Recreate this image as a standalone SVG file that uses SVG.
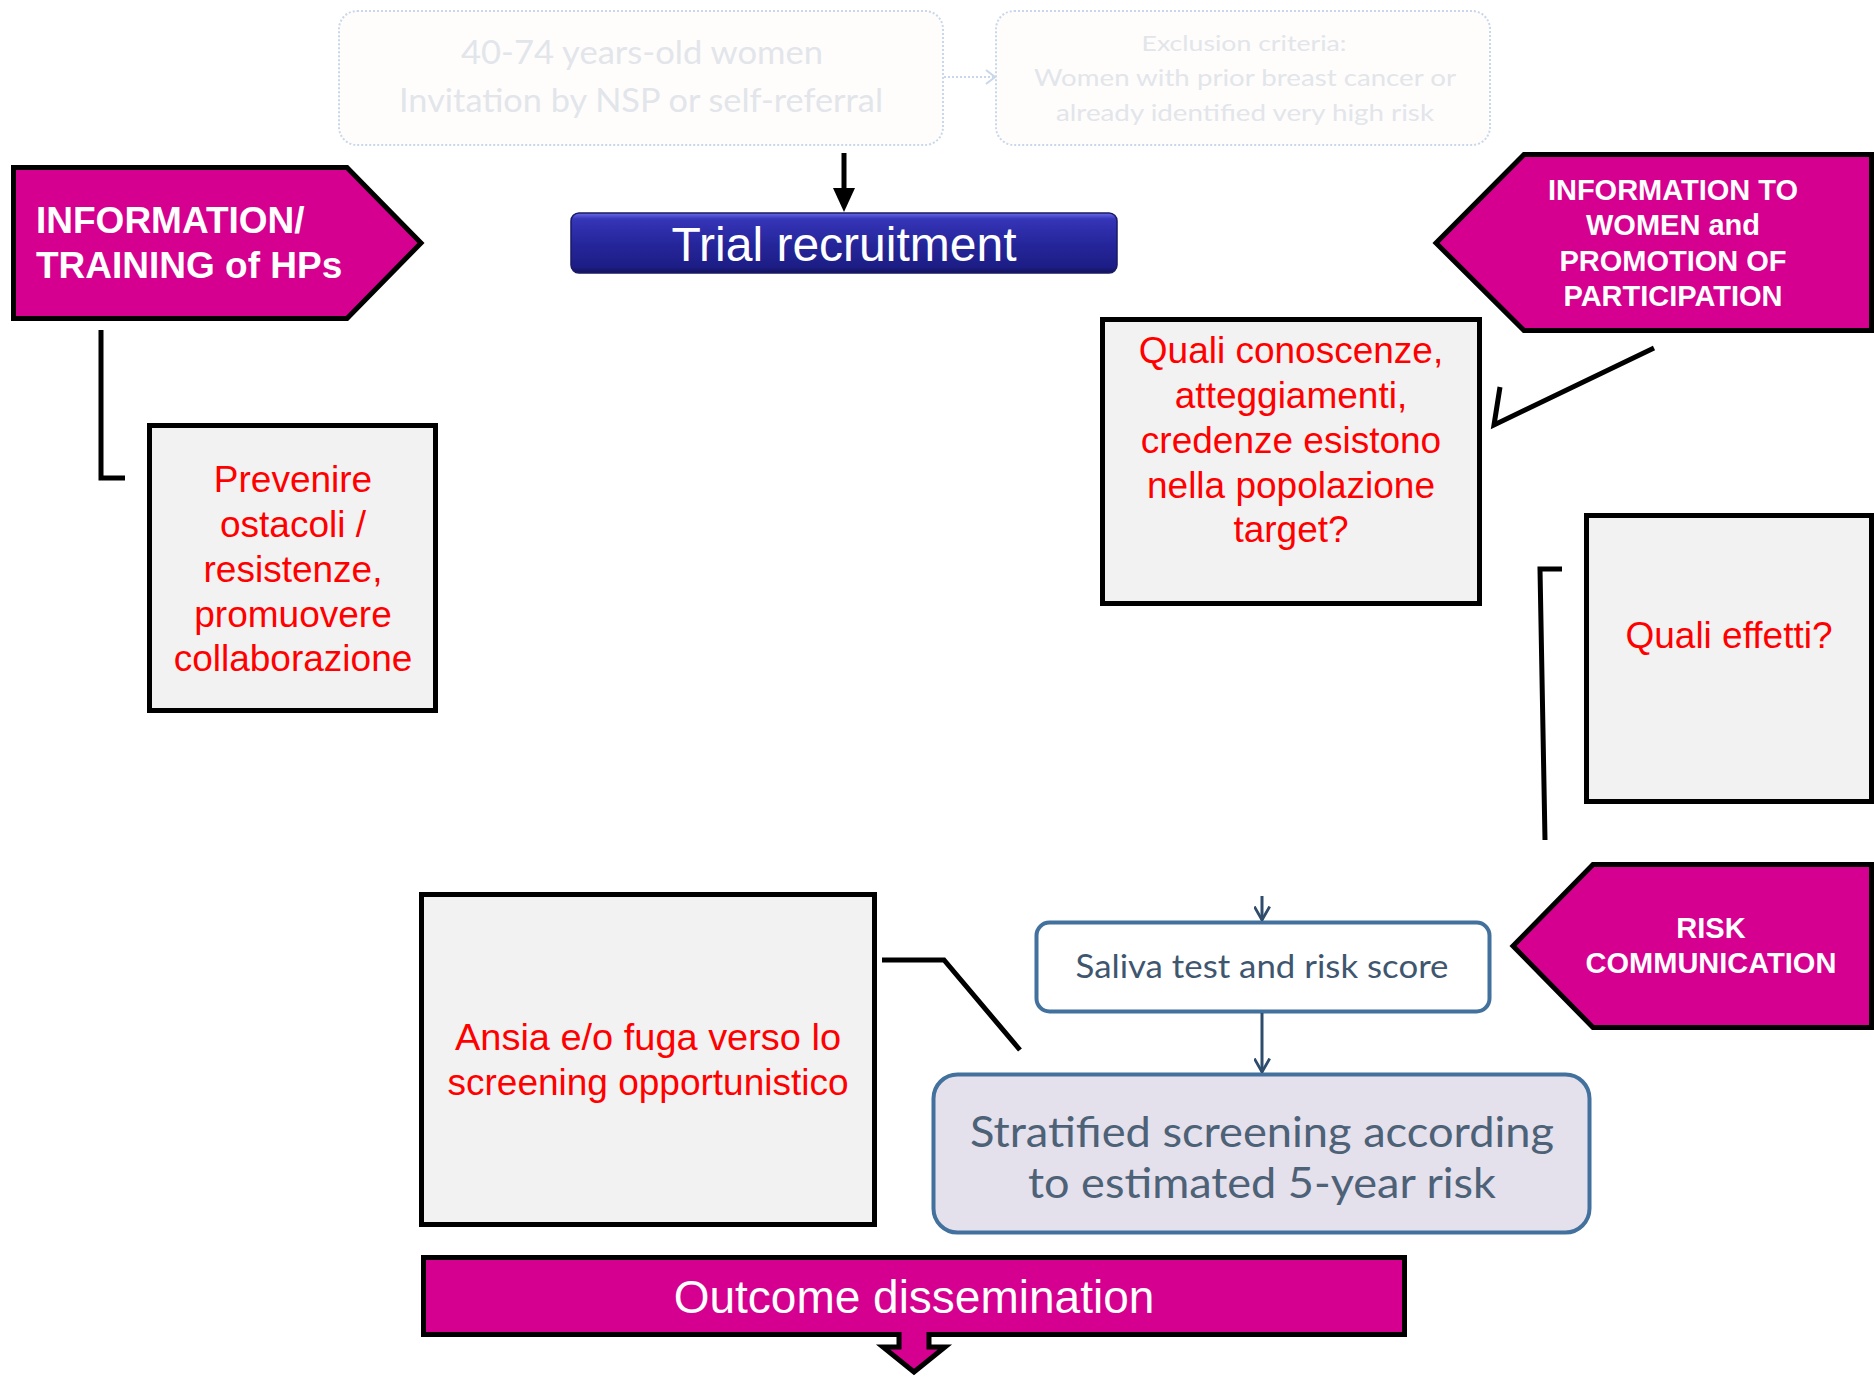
<svg xmlns="http://www.w3.org/2000/svg" width="1874" height="1377" viewBox="0 0 1874 1377">
  <defs>
    <linearGradient id="navy" x1="0" y1="0" x2="0" y2="1">
      <stop offset="0" stop-color="#6a6ae8"/>
      <stop offset="0.1" stop-color="#3535b8"/>
      <stop offset="0.5" stop-color="#26269c"/>
      <stop offset="0.9" stop-color="#1d1d86"/>
      <stop offset="1" stop-color="#12125c"/>
    </linearGradient>
    <!-- open chevron head for the flow arrows -->
    <marker id="vee" viewBox="0 0 15 17" refX="14" refY="8.5" markerWidth="15" markerHeight="17" markerUnits="userSpaceOnUse" orient="auto">
      <path d="M0.5,0.8 L14,8.5 L0.5,16.2" fill="none" stroke="#2f4c6c" stroke-width="2.8"/>
    </marker>
  </defs>
  <style>
    .mag { fill:#d5008f; stroke:#000; stroke-width:5; stroke-linejoin:miter; }
    .note { fill:#f2f2f2; stroke:#000; stroke-width:5; }
    .red { font-family:"Liberation Sans",Arial,sans-serif; font-size:37px; fill:#ff0000; text-anchor:middle; }
    .wb { font-family:"Liberation Sans",Arial,sans-serif; font-weight:bold; fill:#fff; }
    .ghost { fill:#fefdfc; stroke:#c9d7ea; stroke-width:2; stroke-dasharray:2 2; }
    .ghost-t { font-family:Lato,"Open Sans",sans-serif; fill:#e2e5ea; text-anchor:middle; }
    .flow-box { stroke:#41719c; stroke-width:4; }
    .flow-t { font-family:Lato,"Open Sans",sans-serif; text-anchor:middle; }
    .conn { fill:none; stroke:#000; stroke-width:5; stroke-linejoin:miter; }
    .flow { fill:none; stroke:#2f4c6c; stroke-width:3; }
  </style>

  <rect width="1874" height="1377" fill="#fff"/>

  <!-- faded eligibility boxes at the top -->
  <g id="eligibility">
    <rect class="ghost" x="339" y="11" width="604" height="134" rx="18"/>
    <text class="ghost-t" x="642" y="64" font-size="32" textLength="362" lengthAdjust="spacingAndGlyphs">40-74 years-old women</text>
    <text class="ghost-t" x="641" y="112" font-size="32" textLength="484" lengthAdjust="spacingAndGlyphs">Invitation by NSP or self-referral</text>
  </g>
  <g id="exclusion">
    <rect class="ghost" x="996" y="11" width="494" height="134" rx="18"/>
    <text class="ghost-t" x="1244" y="51" font-size="22" textLength="205" lengthAdjust="spacingAndGlyphs">Exclusion criteria:</text>
    <text class="ghost-t" x="1245" y="86" font-size="24" textLength="422" lengthAdjust="spacingAndGlyphs">Women with prior breast cancer or</text>
    <text class="ghost-t" x="1245" y="121" font-size="24" textLength="378" lengthAdjust="spacingAndGlyphs">already identified very high risk</text>
  </g>

  <!-- main process -->
  <g id="trial-recruitment">
    <rect x="571" y="213" width="546" height="60" rx="8" fill="url(#navy)" stroke="#1a1a66" stroke-width="1.5"/>
    <text x="844" y="261" font-family="Liberation Sans, Arial, sans-serif" font-size="48" fill="#fff" text-anchor="middle">Trial recruitment</text>
  </g>

  <g id="hp-training">
    <polygon class="mag" points="13.5,167.5 347,167.5 421,243 347,318.5 13.5,318.5"/>
    <text class="wb" font-size="37"><tspan x="36" y="233">INFORMATION/</tspan><tspan x="36" y="278">TRAINING of HPs</tspan></text>
  </g>

  <g id="prevenire">
    <rect class="note" x="149.5" y="425.5" width="286" height="285"/>
    <text class="red"><tspan x="293" y="492">Prevenire</tspan><tspan x="293" y="537">ostacoli /</tspan><tspan x="293" y="582">resistenze,</tspan><tspan x="293" y="627">promuovere</tspan><tspan x="293" y="671">collaborazione</tspan></text>
  </g>

  <g id="women-information">
    <polygon class="mag" points="1524,154.5 1871.5,154.5 1871.5,330.5 1524,330.5 1436,243"/>
    <text class="wb" font-size="29" text-anchor="middle"><tspan x="1673" y="200">INFORMATION TO</tspan><tspan x="1673" y="235">WOMEN and</tspan><tspan x="1673" y="271">PROMOTION OF</tspan><tspan x="1673" y="306">PARTICIPATION</tspan></text>
  </g>

  <g id="quali-conoscenze">
    <rect class="note" x="1102.5" y="319.5" width="377" height="284"/>
    <text class="red"><tspan x="1291" y="363">Quali conoscenze,</tspan><tspan x="1291" y="408">atteggiamenti,</tspan><tspan x="1291" y="453">credenze esistono</tspan><tspan x="1291" y="498">nella popolazione</tspan><tspan x="1291" y="542">target?</tspan></text>
  </g>

  <g id="quali-effetti">
    <rect class="note" x="1586.5" y="515.5" width="285" height="286"/>
    <text class="red" x="1729" y="648">Quali effetti?</text>
  </g>

  <g id="risk-communication">
    <polygon class="mag" points="1593,864.5 1871.5,864.5 1871.5,1027.5 1593,1027.5 1513,946"/>
    <text class="wb" font-size="29" text-anchor="middle"><tspan x="1711" y="938">RISK</tspan><tspan x="1711" y="973">COMMUNICATION</tspan></text>
  </g>

  <g id="saliva-test">
    <rect class="flow-box" x="1036.5" y="922.5" width="453" height="89" rx="13" fill="#fff"/>
    <text class="flow-t" x="1262" y="978" font-size="32" fill="#3f566f" textLength="373" lengthAdjust="spacingAndGlyphs">Saliva test and risk score</text>
  </g>

  <g id="stratified-screening">
    <rect class="flow-box" x="933.5" y="1074.5" width="656" height="158" rx="24" fill="#e4e0ec"/>
    <text class="flow-t" font-size="42" fill="#4d6177"><tspan x="1262" y="1147" textLength="584" lengthAdjust="spacingAndGlyphs">Stratified screening according</tspan><tspan x="1262" y="1198" textLength="468" lengthAdjust="spacingAndGlyphs">to estimated 5-year risk</tspan></text>
  </g>

  <g id="ansia">
    <rect class="note" x="421.5" y="894.5" width="453" height="330"/>
    <text class="red" font-size="36"><tspan x="648" y="1050" textLength="386" lengthAdjust="spacingAndGlyphs">Ansia e/o fuga verso lo</tspan><tspan x="648" y="1095" textLength="401" lengthAdjust="spacingAndGlyphs">screening opportunistico</tspan></text>
  </g>

  <g id="outcome-dissemination">
    <path class="mag" d="M423.5,1257.5 H1404.5 V1334.5 H929 V1347 H945 L914,1372 L883,1347 H899 V1334.5 H423.5 Z"/>
    <text x="914" y="1313" font-family="Liberation Sans, Arial, sans-serif" font-size="46" fill="#fff" text-anchor="middle">Outcome dissemination</text>
  </g>

  <!-- connectors -->
  <g id="connectors">
    <line x1="944" y1="77" x2="993" y2="77" stroke="#c9d7ea" stroke-width="2" stroke-dasharray="2 2"/>
    <path d="M986,70 L995,77 L986,84" fill="none" stroke="#c9d7ea" stroke-width="2"/>
    <line x1="844" y1="153" x2="844" y2="192" stroke="#000" stroke-width="5"/>
    <polygon points="833,188 855,188 844,212" fill="#000"/>
    <polyline class="conn" points="101,330 101,478 125,478"/>
    <polyline class="conn" points="1654,348 1494,425 1500,387"/>
    <polyline class="conn" points="1562,569 1540,569 1545,840"/>
    <polyline class="conn" points="882,960 944,960 1020,1050"/>
    <line class="flow" x1="1262" y1="896" x2="1262" y2="920" marker-end="url(#vee)"/>
    <line class="flow" x1="1262" y1="1013" x2="1262" y2="1072" marker-end="url(#vee)"/>
  </g>
</svg>
